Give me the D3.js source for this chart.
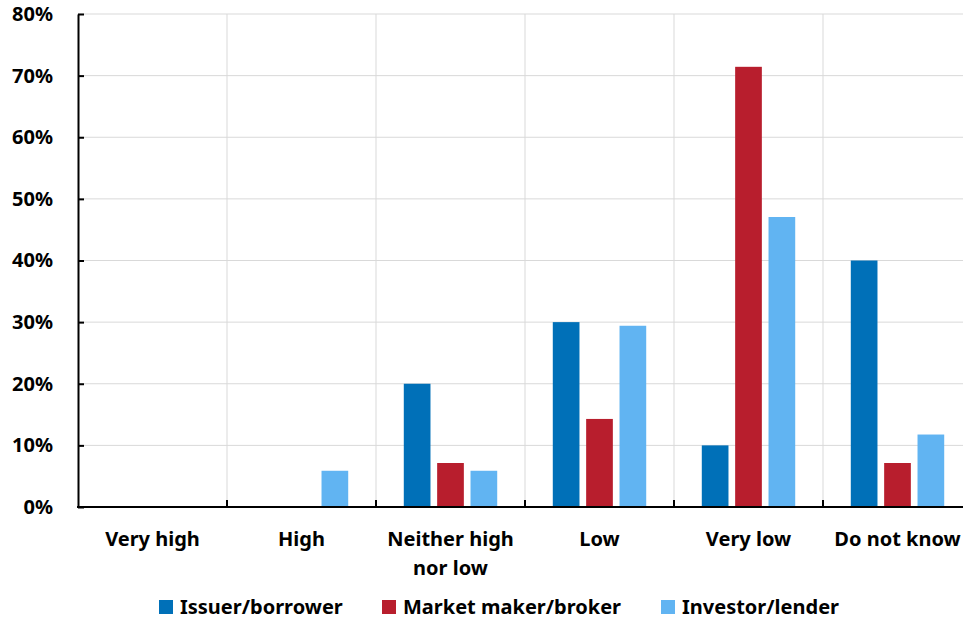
<!DOCTYPE html>
<html>
<head>
<meta charset="utf-8">
<script src="https://cdn.jsdelivr.net/npm/d3@7"></script>
<style>
  body { margin: 0; background: #fff; }
  text { font-family: "Noto Sans", sans-serif; font-weight: bold; fill: #000; }
</style>
</head>
<body>
<div class="chart"></div>
<script>
// data
let categories = ["Very high", "High", "Neither high nor low", "Low", "Very low", "Do not know"];
let series = ["Issuer/borrower", "Market maker/broker", "Investor/lender"];
let issuer = [0, 0, 20, 30, 10, 40];
let marketMaker = [0, 0, 7.14, 14.29, 71.43, 7.14];
let investor = [0, 5.88, 5.88, 29.41, 47.06, 11.76];
let yTicks = [0, 10, 20, 30, 40, 50, 60, 70, 80];
let colors = ["#0070b8", "#b81e2d", "#61b4f2"];

let values = [issuer, marketMaker, investor];
let rows = [];
categories.forEach((c, i) => {
  series.forEach((s, j) => rows.push({ cat: c, series: s, value: values[j][i] }));
});

let W = 963, H = 622;
let margin = { top: 14, left: 78 };
let plotH = 493;
let plotW = 894; // runs a little past the right edge, like the original

let svg = d3
  .select(".chart")
  .append("svg")
  .attr("width", W)
  .attr("height", H);

let x0 = d3.scaleBand().domain(categories).range([margin.left, margin.left + plotW]).padding(0);
let groupW = x0.bandwidth() * 0.627;
let x1 = d3
  .scaleBand()
  .domain(series)
  .range([(x0.bandwidth() - groupW) / 2, (x0.bandwidth() + groupW) / 2])
  .paddingInner(0.2);
let y = d3.scaleLinear().domain([0, 80]).range([margin.top + plotH, margin.top]);

// horizontal grid
svg
  .append("g")
  .selectAll("line")
  .data(yTicks.slice(1))
  .enter()
  .append("line")
  .attr("x1", margin.left)
  .attr("x2", margin.left + plotW)
  .attr("y1", (d) => y(d))
  .attr("y2", (d) => y(d))
  .style("stroke", "#d9d9d9")
  .style("stroke-width", 1);

// vertical grid at category boundaries
let bounds = categories.slice(1).map((c) => x0(c));
svg
  .append("g")
  .selectAll("line")
  .data(bounds)
  .enter()
  .append("line")
  .attr("x1", (d) => d)
  .attr("x2", (d) => d)
  .attr("y1", margin.top)
  .attr("y2", margin.top + plotH)
  .style("stroke", "#d9d9d9")
  .style("stroke-width", 1);

// bars
svg
  .append("g")
  .selectAll("rect")
  .data(rows.filter((d) => d.value > 0))
  .enter()
  .append("rect")
  .attr("x", (d) => x0(d.cat) + x1(d.series))
  .attr("y", (d) => y(d.value))
  .attr("width", x1.bandwidth())
  .attr("height", (d) => y(0) - y(d.value))
  .style("fill", (d) => colors[series.indexOf(d.series)]);

// y axis
let yAxis = d3
  .axisLeft(y)
  .tickValues(yTicks)
  .tickFormat((d) => d + "%")
  .tickSizeInner(-6)
  .tickSizeOuter(0)
  .tickPadding(25);
let gy = svg.append("g").attr("transform", `translate(${margin.left}, 0)`).call(yAxis);
gy.select(".domain").style("stroke", "#000").style("stroke-width", 2);
gy.selectAll(".tick line").style("stroke", "#000").style("stroke-width", 2);
gy.selectAll("text").style("font-size", "20px").style("font-family", null);

// x axis line and inward ticks
svg
  .append("line")
  .attr("x1", margin.left - 1)
  .attr("x2", margin.left + plotW)
  .attr("y1", y(0))
  .attr("y2", y(0))
  .style("stroke", "#000")
  .style("stroke-width", 2);
svg
  .append("g")
  .selectAll("line")
  .data(bounds)
  .enter()
  .append("line")
  .attr("x1", (d) => d)
  .attr("x2", (d) => d)
  .attr("y1", y(0))
  .attr("y2", y(0) - 7)
  .style("stroke", "#000")
  .style("stroke-width", 2);

// category labels, wrapped
let wrapWidth = 130;
svg
  .append("g")
  .selectAll("text")
  .data(categories)
  .enter()
  .append("text")
  .attr("x", (d) => x0(d) + x0.bandwidth() / 2)
  .attr("y", 546)
  .style("font-size", "20px")
  .attr("text-anchor", "middle")
  .each(function (d) {
    let el = d3.select(this);
    let words = d.split(" ");
    let line = [];
    let lineNo = 0;
    let tspan = el.append("tspan").attr("x", el.attr("x")).attr("dy", 0);
    words.forEach((w) => {
      line.push(w);
      tspan.text(line.join(" "));
      if (tspan.node().getComputedTextLength() > wrapWidth && line.length > 1) {
        line.pop();
        tspan.text(line.join(" "));
        line = [w];
        lineNo++;
        tspan = el.append("tspan").attr("x", el.attr("x")).attr("dy", 29).text(w);
      }
    });
  });

// legend
let legendX = [159, 382, 661];
let legend = svg
  .append("g")
  .selectAll("g")
  .data(series)
  .enter()
  .append("g")
  .attr("transform", (d, i) => `translate(${legendX[i]}, 600)`);
legend
  .append("rect")
  .attr("width", 14)
  .attr("height", 14)
  .style("fill", (d, i) => colors[i]);
legend
  .append("text")
  .attr("x", 21)
  .attr("y", 14)
  .style("font-size", "20px")
  .text((d) => d);
</script>
</body>
</html>
